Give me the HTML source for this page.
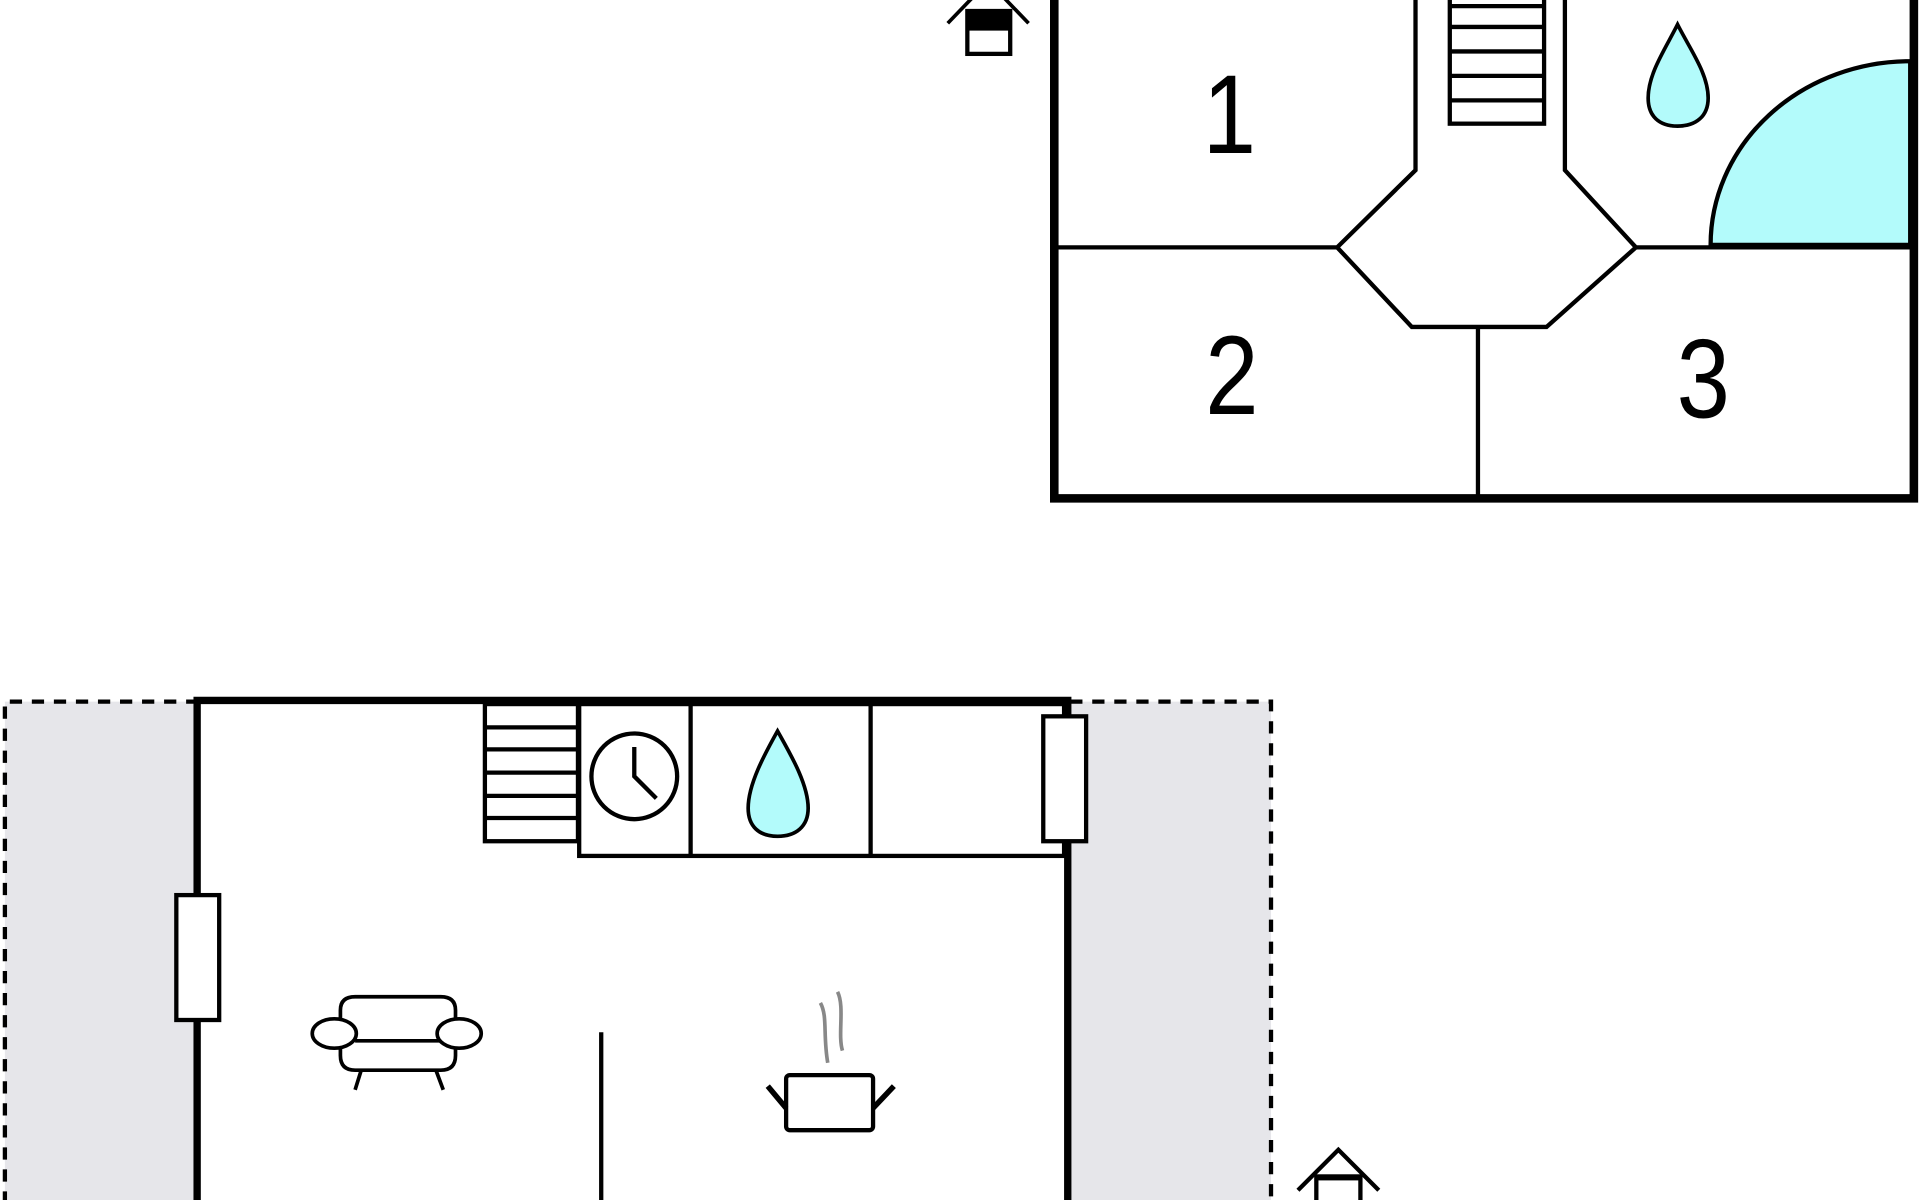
<!DOCTYPE html>
<html><head><meta charset="utf-8"><style>html,body{margin:0;padding:0;background:#fff;overflow:hidden}svg{display:block}</style></head>
<body>
<svg width="1920" height="1200" viewBox="0 0 1568 980" preserveAspectRatio="none" xmlns="http://www.w3.org/2000/svg">
<rect width="1568" height="980" fill="#fff"/>
<!-- TOP PLAN -->
<g fill="none" stroke="#000" stroke-width="3.5">
<path d="M864,202 H1092 L1156,139 V-5 M1278,-5 V139 L1336,202 H1560 M1092,202 L1153,267 H1263 L1336,202 M1207,267 V407"/>
</g>
<path d="M1397,200 A163,150 0 0 1 1560,50 V200 Z" fill="#b3fbfb" stroke="#000" stroke-width="3.5"/>
<path d="M861,-5 V407 H1563 V-5" fill="none" stroke="#000" stroke-width="7"/>
<rect x="1184" y="-5" width="77" height="106" fill="#fff" stroke="#000" stroke-width="3.5"/>
<g stroke="#000" stroke-width="3.5"><path d="M1184,5H1261M1184,22H1261M1184,42H1261M1184,62H1261M1184,82H1261"/></g>
<path d="M1370,20 C1380,40 1395,60 1395,80 C1395,95 1385,103 1370,103 C1355,103 1346,95 1346,80 C1346,60 1360,40 1370,20 Z" fill="#b3fbfb" stroke="#000" stroke-width="3"/>
<g font-family="Liberation Sans, sans-serif" font-size="92" text-anchor="middle" fill="#000">
<text transform="translate(1004,125) scale(0.85,1)">1</text>
<text transform="translate(1006,338) scale(0.85,1)">2</text>
<text transform="translate(1391,341) scale(0.85,1)">3</text>
</g>
<!-- top entry icon -->
<g stroke="#000" stroke-width="3" fill="none"><path d="M774,19 L800,-8 M814,-8 L840,19"/></g>
<rect x="790" y="9" width="35" height="35" fill="#fff" stroke="#000" stroke-width="3.5"/>
<rect x="790" y="9" width="35" height="16" fill="#000"/>
<!-- BOTTOM PLAN -->
<rect x="4" y="573" width="157" height="410" fill="#e6e6ea"/>
<rect x="872" y="573" width="166" height="410" fill="#e6e6ea"/>
<path d="M4,983 V573 H160 M874,573 H1038 V983" fill="none" stroke="#000" stroke-width="3.5" stroke-dasharray="10,8"/>
<rect x="161" y="573" width="711" height="420" fill="#fff"/>
<path d="M161,983 V572 H875 M872,572 V983" fill="none" stroke="#000" stroke-width="6"/>
<g fill="#fff" stroke="#000" stroke-width="3.5">
<rect x="396" y="575" width="76" height="112"/>
<rect x="473" y="575" width="396" height="124"/>
</g>
<g stroke="#000" stroke-width="3.5"><path d="M396,594H472M396,612H472M396,631H472M396,650H472M396,668H472M564,575V699M711,575V699"/></g>
<circle cx="518" cy="634" r="35" fill="none" stroke="#000" stroke-width="3.5"/>
<path d="M518,610 V634 L536,652" fill="none" stroke="#000" stroke-width="3.5"/>
<path d="M635,597 C645,615 660,640 660,660 C660,675 650,683 635,683 C620,683 611,675 611,660 C611,640 625,615 635,597 Z" fill="#b3fbfb" stroke="#000" stroke-width="3"/>
<rect x="852" y="585" width="35" height="102" fill="#fff" stroke="#000" stroke-width="3.5"/>
<rect x="144" y="731" width="35" height="102" fill="#fff" stroke="#000" stroke-width="3.5"/>
<path d="M491,843 V983" stroke="#000" stroke-width="3.5"/>
<!-- armchair -->
<g fill="none" stroke="#000" stroke-width="3">
<path d="M278,835 V825 Q278,814 290,814 H360 Q372,814 372,825 V835"/>
<path d="M278,852 V862 Q278,874 290,874 H360 Q372,874 372,862 V852"/>
<path d="M290,850 H360"/>
<ellipse cx="273" cy="844" rx="18" ry="12" fill="#fff"/>
<ellipse cx="375" cy="844" rx="18" ry="12" fill="#fff"/>
<path d="M295,874 L290,890 M356,874 L362,890"/>
</g>
<!-- pot -->
<g fill="none" stroke="#888" stroke-width="3">
<path d="M670,819 C676,830 672,845 676,868"/>
<path d="M684,810 C690,822 684,845 688,858"/>
</g>
<rect x="642" y="878" width="71" height="45" rx="3" fill="#fff" stroke="#000" stroke-width="3.5"/>
<path d="M642,905 L627,887 M713,905 L730,887" stroke="#000" stroke-width="4.5"/>
<!-- bottom entry icon -->
<path d="M1060,972 L1093,939 L1126,972" fill="none" stroke="#000" stroke-width="3.5"/>
<rect x="1075" y="961" width="36" height="25" fill="#fff" stroke="#000" stroke-width="3.5"/>
<rect x="1075" y="959" width="36" height="5" fill="#000"/>
</svg>
</body></html>
